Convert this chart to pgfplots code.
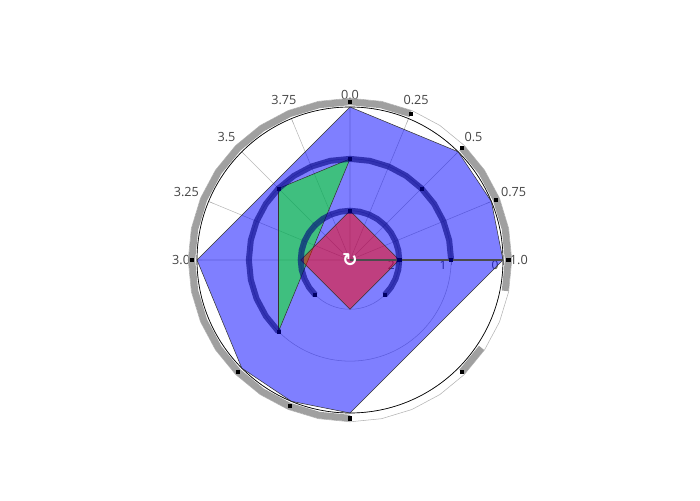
\documentclass[border=0pt]{standalone}
\usepackage{pgfplots}
\pgfplotsset{compat=1.18}
\usepgfplotslibrary{polar}
\usepackage{fontspec}
\setmainfont{Open Sans}
\newfontfamily\dejavu{DejaVu Sans}
\definecolor{txt}{RGB}{68,68,68}
\begin{document}
\begin{tikzpicture}
\useasboundingbox (0,0) rectangle (525pt,375pt);
\begin{polaraxis}[
  at={(262.5pt,180pt)}, anchor=center,
  width=229.5pt, height=229.5pt, scale only axis,
  ymin=0, ymax=2.95, clip=false,
  xtick={90,67.5,45,22.5,0,-22.5,-45,-67.5,-90,-112.5,-135,-157.5,180,157.5,135,112.5},
  xticklabels={0.0,0.25,0.5,0.75,1.0,1.25,1.5,1.75,2.0,2.25,2.5,2.75,3.0,3.25,3.5,3.75},
  ytick={0.95,1.95,2.95}, yticklabels={2,1,0},
  yticklabel style={anchor=north, font=\fontsize{9}{10}\selectfont, text=txt, yshift=-1pt, xshift=-6pt},
  xticklabel style={font=\fontsize{9.5}{11}\selectfont, text=txt, inner sep=9pt},
  xmajorgrids, ymajorgrids,
  grid style={gray!55, line width=0.4pt},
  axis line style={black, line width=0.5pt},
  tick style={gray!70},
  tick align=outside,
  major tick length=4pt,
  /pgf/number format/assume math mode=true,
]
% outer thin circle
\addplot[gray!60, line width=0.4pt] coordinates {(0,3.12)(11.25,3.12)(22.5,3.12)(33.75,3.12)(45,3.12)(56.25,3.12)(67.5,3.12)(78.75,3.12)(90,3.12)(101.25,3.12)(112.5,3.12)(123.75,3.12)(135,3.12)(146.25,3.12)(157.5,3.12)(168.75,3.12)(180,3.12)(191.25,3.12)(202.5,3.12)(213.75,3.12)(225,3.12)(236.25,3.12)(247.5,3.12)(258.75,3.12)(270,3.12)(281.25,3.12)(292.5,3.12)(303.75,3.12)(315,3.12)(326.25,3.12)(337.5,3.12)(348.75,3.12)(360,3.12)};
% blue polygon
\addplot[fill=blue, fill opacity=0.5, draw=black!80, line width=0.4pt] coordinates {(90,2.95)(45,2.95)(22.5,2.95)(0,2.95)(-90,2.95)(-112.5,2.95)(-135,2.95)(-180,2.95)} -- cycle;
% green triangle
\addplot[fill=green, fill opacity=0.5, draw=black!80, line width=0.4pt] coordinates {(90,1.95)(135,1.95)(225,1.95)} -- cycle;
% red diamond
\addplot[fill=red, fill opacity=0.5, draw=black!80, line width=0.4pt] coordinates {(90,0.95)(0,0.95)(-90,0.95)(180,0.95)} -- cycle;
% gray band segments
\addplot[gray, opacity=0.75, line width=5pt] coordinates {(-90,3.05)(-101.25,3.05)(-112.5,3.05)(-123.75,3.05)(-135,3.05)(-146.25,3.05)(-157.5,3.05)(-168.75,3.05)(-180,3.05)(-191.25,3.05)(-202.5,3.05)(-213.75,3.05)(-225,3.05)(-236.25,3.05)(-247.5,3.05)(-258.75,3.05)(-270,3.05)(-281.25,3.05)(-292.5,3.05)};
\addplot[gray, opacity=0.75, line width=5pt] coordinates {(45,3.05)(33.75,3.05)(22.5,3.05)(11.25,3.05)(0,3.05)(-11.25,3.05)};
\addplot[gray, opacity=0.75, line width=5pt] coordinates {(-33.75,3.05)(-45,3.05)};
\addplot[only marks, mark=square*, mark size=1.2pt, black] coordinates {(90,3.05)(67.5,3.05)(45,3.05)(22.5,3.05)(0,3.05)(-45,3.05)(-90,3.05)(-112.5,3.05)(-135,3.05)(-180,3.05)};
% dark blue arcs r=1
\addplot[blue!50!black, opacity=0.6, line width=4.5pt] coordinates {(-135,1.95)(-146.25,1.95)(-157.5,1.95)(-168.75,1.95)(-180,1.95)(-191.25,1.95)(-202.5,1.95)(-213.75,1.95)(-225,1.95)(-236.25,1.95)(-247.5,1.95)(-258.75,1.95)(-270,1.95)(-281.25,1.95)(-292.5,1.95)(-303.75,1.95)(-315,1.95)(-326.25,1.95)(-337.5,1.95)(-348.75,1.95)(-360,1.95)};
\addplot[only marks, mark=square*, mark size=1.2pt, blue!40!black] coordinates {(-135,1.95)(-225,1.95)(90,1.95)(45,1.95)(0,1.95)};
% dark blue arc r=2
\addplot[blue!50!black, opacity=0.6, line width=4.5pt] coordinates {(-135,0.95)(-146.25,0.95)(-157.5,0.95)(-168.75,0.95)(-180,0.95)(-191.25,0.95)(-202.5,0.95)(-213.75,0.95)(-225,0.95)(-236.25,0.95)(-247.5,0.95)(-258.75,0.95)(-270,0.95)(-281.25,0.95)(-292.5,0.95)(-303.75,0.95)(-315,0.95)(-326.25,0.95)(-337.5,0.95)(-348.75,0.95)(-360,0.95)(-371.25,0.95)(-382.5,0.95)(-393.75,0.95)(-405,0.95)};
\addplot[only marks, mark=square*, mark size=1.2pt, blue!40!black] coordinates {(-135,0.95)(90,0.95)(0,0.95)(-45,0.95)};
% radial axis line
\addplot[black!70, line width=0.8pt] coordinates {(0,0)(0,2.95)};
\node[text=white, font=\dejavu\bfseries\fontsize{14}{14}\selectfont] at (axis cs:0,0) {↻};
\end{polaraxis}
\end{tikzpicture}
\end{document}
